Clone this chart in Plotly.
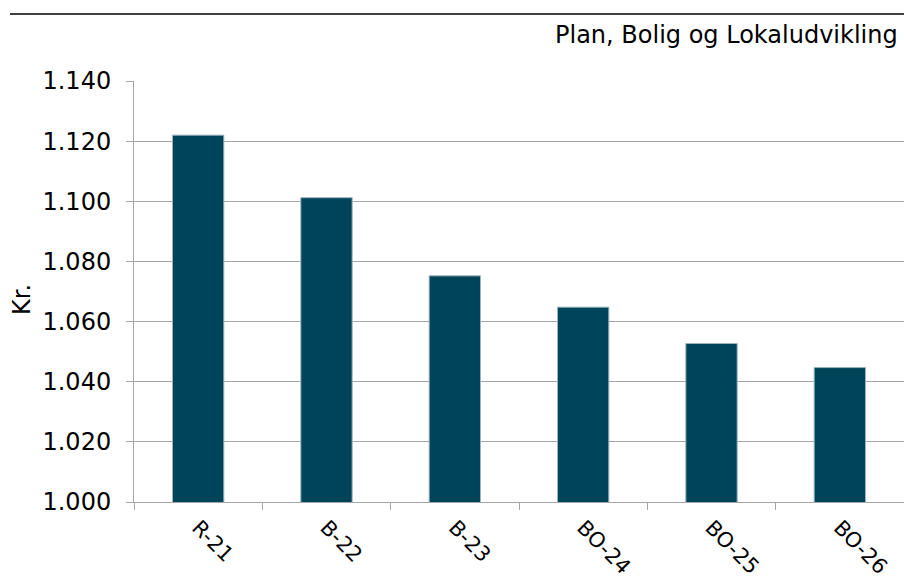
import plotly.graph_objects as go

categories = ["R-21", "B-22", "B-23", "BO-24", "BO-25", "BO-26"]
values = [1122.0, 1101.2, 1075.2, 1064.8, 1052.7, 1044.7]
y_ticks = [1000, 1020, 1040, 1060, 1080, 1100, 1120, 1140]

FONT = "DejaVu Sans, Verdana, sans-serif"
PLOT_L = 134
PLOT_T = 81
PLOT_W = 770
PLOT_H = 421

fig = go.Figure(go.Bar(
    x=categories, y=values,
    marker=dict(color="#00445A", line=dict(color="#9BB3BE", width=1)),
    width=0.4,
))

fig.update_layout(
    width=904, height=583,
    margin=dict(l=PLOT_L, r=0, t=PLOT_T, b=81, autoexpand=False),
    paper_bgcolor="white", plot_bgcolor="white",
    separators=",.",
    showlegend=False,
    font=dict(family=FONT, color="black"),
    shapes=[dict(type="line", xref="paper", yref="paper",
                 x0=(10 - PLOT_L) / PLOT_W, x1=1.0, y0=1 + 67 / PLOT_H, y1=1 + 67 / PLOT_H,
                 line=dict(color="black", width=1.5))],
    annotations=[
        dict(text="Plan, Bolig og Lokaludvikling", xref="paper", yref="paper",
             x=1 - 4 / PLOT_W, y=1 + 46 / PLOT_H, xanchor="right", yanchor="middle",
             showarrow=False, font=dict(family=FONT, size=24, color="black")),
        dict(text="Kr.", xref="paper", yref="paper", textangle=-90,
             x=(22 - PLOT_L) / PLOT_W, y=1 - (300 - PLOT_T) / PLOT_H,
             xanchor="center", yanchor="middle",
             showarrow=False, font=dict(family=FONT, size=24, color="black")),
    ],
)

fig.update_yaxes(
    automargin=False,
    range=[1000, 1140], tickvals=y_ticks, tickformat=",d",
    showgrid=True, gridcolor="#A6A6A6", gridwidth=1,
    showline=True, linecolor="#A6A6A6", linewidth=1,
    ticks="outside", ticklen=7, tickcolor="#A6A6A6",
    tickfont=dict(family=FONT, size=24, color="black"),
    ticklabelstandoff=10,
    zeroline=False,
)
fig.update_xaxes(
    automargin=False,
    showline=True, linecolor="#A6A6A6", linewidth=1,
    ticks="outside", ticklen=7, tickcolor="#A6A6A6", tickson="boundaries",
    tickangle=45, tickfont=dict(family=FONT, size=21, color="black"),
    ticklabelstandoff=4,
    showgrid=False,
)

fig.write_html(
    "out.html",
    config={"displayModeBar": False},
    post_script="document.body.style.margin='0';document.body.style.overflow='hidden';",
)
